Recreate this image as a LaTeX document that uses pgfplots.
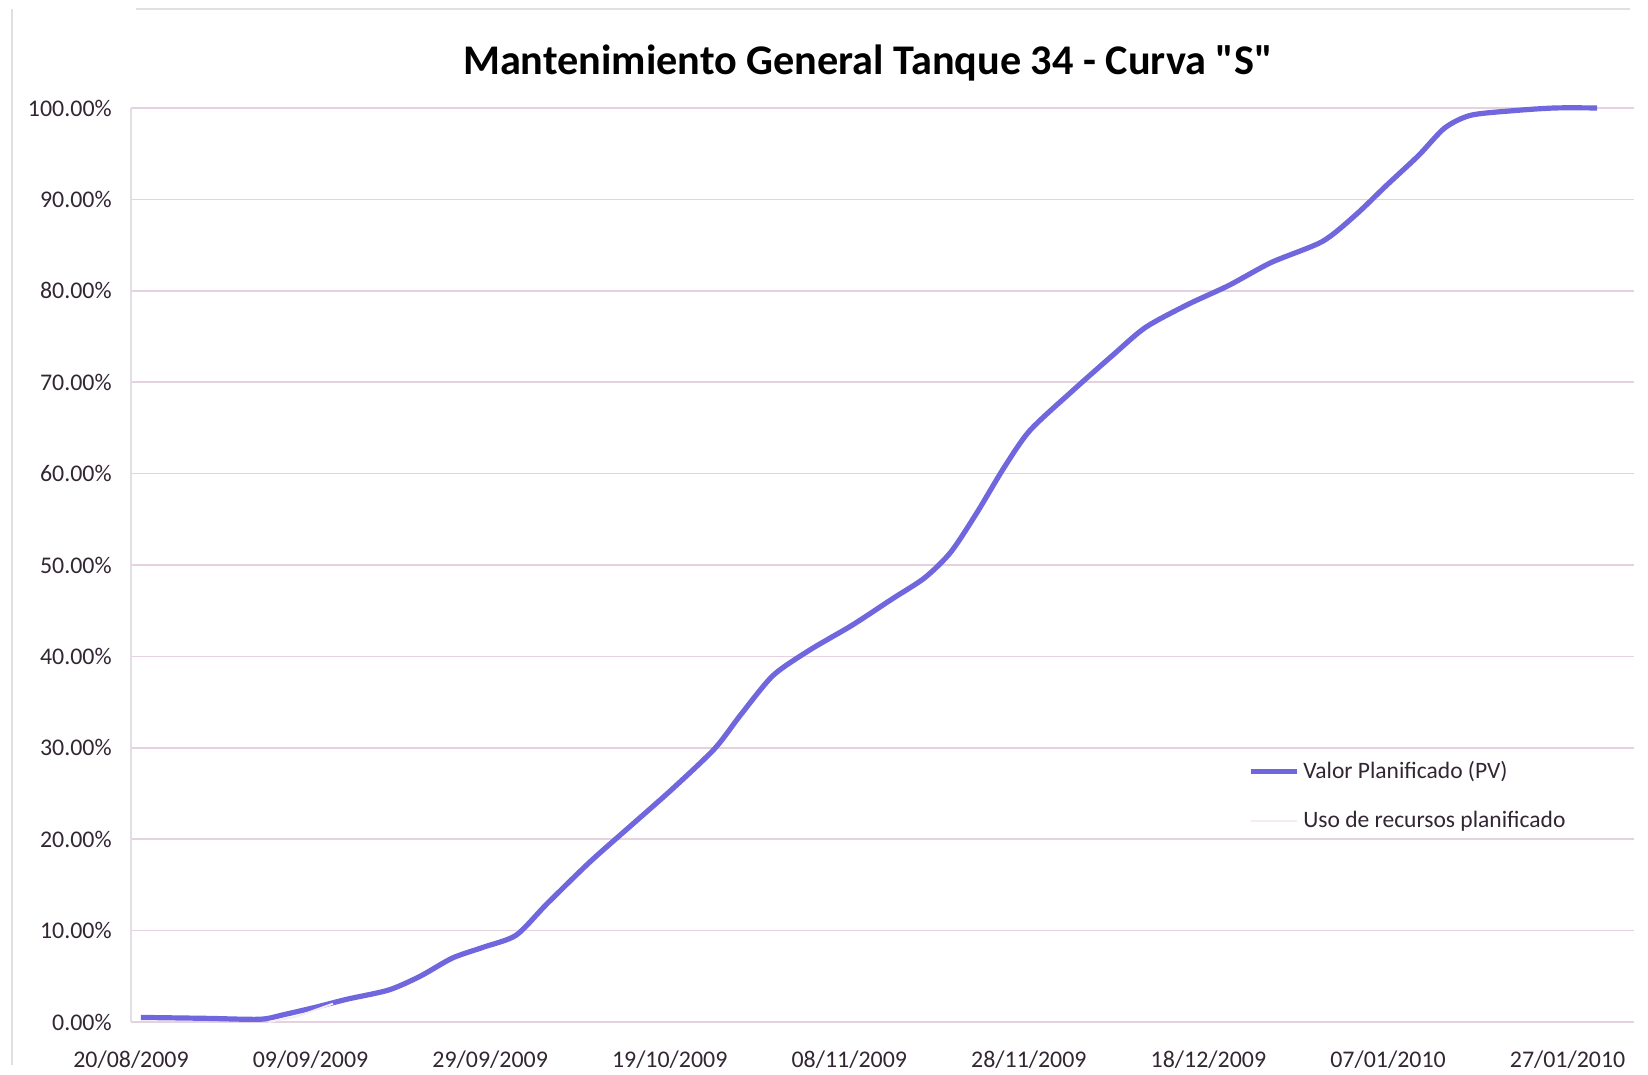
\documentclass[border=0pt]{standalone}
\usepackage{pgfplots}
\pgfplotsset{compat=1.18}
\usepackage{fontspec}
\setmainfont{Carlito}
\newfontfamily\titlefont{Carlito}[Ligatures=TeXOff]
\definecolor{pvline}{RGB}{112,102,222}
\definecolor{gridc}{RGB}{230,210,222}
\definecolor{tickc}{RGB}{50,38,50}
\definecolor{framec}{RGB}{225,222,228}
\begin{document}
\begin{tikzpicture}[x=1bp,y=1bp]
\path[use as bounding box] (0,0) rectangle (824,537.5);
\draw[framec, line width=0.8bp] (6,5) -- (6,533);
\draw[framec, line width=0.8bp] (68,533) -- (815,533);
\node[font=\titlefont\bfseries\fontsize{21.2}{24}\selectfont, text=black] at (434,506) {Mantenimiento General Tanque 34 - Curva "S"};
\begin{axis}[
  at={(65.5bp,26.5bp)}, anchor=origin,
  width=751.5bp, height=457bp, scale only axis,
  xmin=0, xmax=167.4, ymin=0, ymax=100,
  axis lines=left,
  axis line style={draw=none, -},
  clip=false,
  xtick={0,20,...,160},
  xticklabels={20/08/2009,09/09/2009,29/09/2009,19/10/2009,08/11/2009,28/11/2009,18/12/2009,07/01/2010,27/01/2010},
  ytick={0,10,...,100},
  yticklabels={0.00\%,10.00\%,20.00\%,30.00\%,40.00\%,50.00\%,60.00\%,70.00\%,80.00\%,90.00\%,100.00\%},
  tick style={draw=none},
  ticklabel style={font=\fontsize{12}{14}\selectfont, text=tickc},
  yticklabel style={xshift=-4bp},
  xticklabel style={yshift=-9bp},
  legend style={at={(0.743,0.247)}, anchor=west, draw=none, fill=none,
    font=\fontsize{11.8}{13}\selectfont, text=tickc, row sep=11bp,
    legend cell align=left, inner sep=0pt},
  legend image code/.code={\draw[#1] (0bp,0bp) -- (23bp,0bp);},
]
% grid lines
\foreach \v in {0,10,...,100} {
  \edef\tmp{\noexpand\draw[gridc, line width=0.8bp] (axis cs:0,\v) -- (axis cs:167.4,\v);}
  \tmp
}
\draw[framec, line width=0.8bp] (axis cs:0,0) -- (axis cs:0,100);
\addplot[pvline, line width=2.6bp, smooth, tension=0.45] coordinates {
(1.1,0.5) (8.3,0.4) (14.4,0.3) (17.0,0.8) (20.5,1.6) (24.1,2.5) (28.7,3.5) (32.2,5.0)
(35.8,7.0) (39.3,8.2) (42.9,9.5) (46.3,12.9) (51.1,17.5) (55.7,21.5) (60.3,25.5)
(65.0,29.9) (67.9,33.6) (71.5,37.9) (75.6,40.7) (80.3,43.4) (84.8,46.3) (88.4,48.6)
(91.3,51.4) (94.2,55.7) (97.2,60.6) (100.1,64.7) (104.8,69.0) (109.4,73.0)
(113.0,76.0) (117.7,78.5) (122.3,80.6) (127.0,83.1) (132.7,85.4) (136.4,88.3)
(139.8,91.5) (143.4,94.8) (146.3,97.8) (149.2,99.2) (153.9,99.7) (158.6,100) (163.3,100)
};
\addlegendentry{Valor Planificado (PV)}
\addplot[color={rgb,255:red,246;green,236;blue,242}, line width=1bp] coordinates {
(15.3,0) (18.5,0.6) (22.5,2.0)
};
\addlegendentry{Uso de recursos planificado}
\end{axis}
\end{tikzpicture}
\end{document}
